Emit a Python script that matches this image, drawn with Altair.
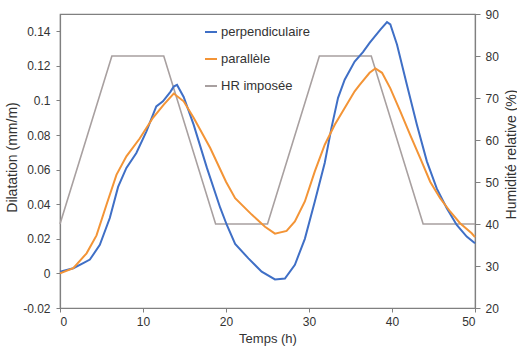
import altair as alt
import pandas as pd

series_names = ["perpendiculaire", "parallèle", "HR imposée"]
series_colors = ["#3f6fc6", "#f39436", "#a8a0a0"]

perp_t = [0, 1.6, 2.8, 3.6, 4.8, 6.0, 7.0, 8.0, 9.2, 10.4, 11.6, 12.4, 13.3, 13.7,
          14.1, 14.9, 16.1, 17.7, 19.3, 20.1, 21.1, 22.7, 24.3, 25.9, 27.1, 28.3,
          29.5, 30.7, 31.9, 32.7, 33.5, 34.3, 35.5, 36.5, 37.3, 38.6, 39.4, 39.8,
          40.6, 41.8, 43.0, 44.2, 45.4, 46.6, 47.8, 49.0, 50]
perp_v = [0.001, 0.003, 0.006, 0.008, 0.0165, 0.032, 0.050, 0.061, 0.0696, 0.082,
          0.0966, 0.0995, 0.105, 0.108, 0.109, 0.102, 0.086, 0.061, 0.038, 0.028,
          0.017, 0.0087, 0.001, -0.0035, -0.003, 0.005, 0.020, 0.0416, 0.064,
          0.084, 0.1015, 0.112, 0.1225, 0.128, 0.1333, 0.141, 0.1453, 0.144,
          0.1324, 0.109, 0.086, 0.0648, 0.049, 0.0377, 0.028, 0.0213, 0.0174]

para_t = [0, 1.6, 3.2, 4.4, 5.6, 6.8, 8.0, 9.6, 11.2, 12.5, 13.7, 14.9, 16.1, 18.1,
          20.0, 21.1, 23.1, 24.7, 25.9, 27.3, 28.3, 29.5, 30.7, 31.9, 33.1, 34.3,
          35.5, 36.1, 37.3, 38.0, 38.8, 39.8, 41.0, 42.2, 43.4, 44.6, 45.8, 47.0,
          48.2, 49.6, 50]
para_v = [0.0, 0.003, 0.0116, 0.022, 0.0397, 0.057, 0.0677, 0.078, 0.090, 0.0976,
          0.104, 0.0995, 0.090, 0.0725, 0.053, 0.0435, 0.034, 0.027, 0.023, 0.0246,
          0.030, 0.0416, 0.059, 0.0744, 0.086, 0.0957, 0.1053, 0.109, 0.116, 0.1185,
          0.116, 0.107, 0.0937, 0.080, 0.0667, 0.053, 0.0435, 0.0358, 0.029, 0.0232,
          0.021]

hr_t = [0, 6.25, 12.5, 18.75, 25, 31.25, 37.5, 43.75, 50]
hr_v = [40, 80, 80, 40, 40, 80, 80, 40, 40]

x_ticks = [0, 10, 20, 30, 40, 50]
left_ticks = [-0.02, 0, 0.02, 0.04, 0.06, 0.08, 0.1, 0.12, 0.14]
right_ticks = [20, 30, 40, 50, 60, 70, 80, 90]

dil = pd.DataFrame({
    "t": perp_t + para_t,
    "v": perp_v + para_v,
    "s": [series_names[0]] * len(perp_t) + [series_names[1]] * len(para_t),
    "o": [1] * len(perp_t) + [0] * len(para_t),
})
hr = pd.DataFrame({"t": hr_t, "h": hr_v, "s": [series_names[2]] * len(hr_t)})

FONT = "Liberation Sans"
TXT = "#333333"
AX = "#808080"

color_scale = alt.Scale(domain=series_names, range=series_colors)
legend = alt.Legend(orient="none", legendX=144, legendY=11, title=None,
                    symbolType="stroke", symbolSize=144,
                    symbolStrokeWidth=2, labelFontSize=13,
                    rowPadding=13, padding=0, labelOffset=3,
                    labelColor=TXT, labelFont=FONT)

x_enc = alt.X(
    "t:Q",
    scale=alt.Scale(domain=[0, 50], nice=False),
    axis=alt.Axis(values=x_ticks, title="Temps (h)", grid=False, tickSize=4,
                  labelPadding=4, titlePadding=5, labelFontSize=12,
                  titleFontSize=13, titleFontWeight="normal"),
)

hr_layer = alt.Chart(hr).mark_line(strokeWidth=1.6).encode(
    x=x_enc,
    y=alt.Y("h:Q", scale=alt.Scale(domain=[20, 90], nice=False, zero=False),
            axis=alt.Axis(orient="right", values=right_ticks, title="Humidité relative (%)",
                          grid=False, tickSize=5, labelPadding=5, titleAngle=270,
                          titleX=36, titleY=140, titleAlign="center",
                          titleBaseline="middle", labelFontSize=12, titleFontSize=14,
                          titleFontWeight="normal")),
    color=alt.Color("s:N", scale=color_scale, legend=legend),
)

dil_layer = alt.Chart(dil).mark_line(strokeWidth=2).encode(
    x=x_enc,
    y=alt.Y("v:Q", scale=alt.Scale(domain=[-0.02, 0.15], nice=False, zero=False),
            axis=alt.Axis(orient="left", values=left_ticks, title="Dilatation (mm/m)",
                          grid=False, tickSize=4, labelPadding=6,
                          titleX=-48, titleY=143, titleAngle=270, titleAlign="center",
                          titleBaseline="middle",
                          labelFontSize=12, titleFontSize=14, titleFontWeight="normal",
                          labelExpr="datum.value < 0 ? '-' + format(-datum.value, '.2~f') : format(datum.value, '.2~f')")),
    color=alt.Color("s:N", scale=color_scale, legend=legend),
    order=alt.Order("o:Q"),
)

chart = alt.layer(hr_layer, dil_layer).resolve_scale(y="independent").properties(
    width=415, height=294,
    padding={"left": 60, "top": 14, "right": 42, "bottom": 41},
    autosize=alt.AutoSizeParams(type="none"),
    background="white",
).configure_view(stroke=AX, strokeWidth=1.2).configure_axis(
    domainColor=AX, tickColor=AX, labelColor=TXT, titleColor=TXT,
    labelFont=FONT, titleFont=FONT, domainWidth=1.2,
)

chart.save("out.html", embed_options={"renderer": "svg", "actions": False})
